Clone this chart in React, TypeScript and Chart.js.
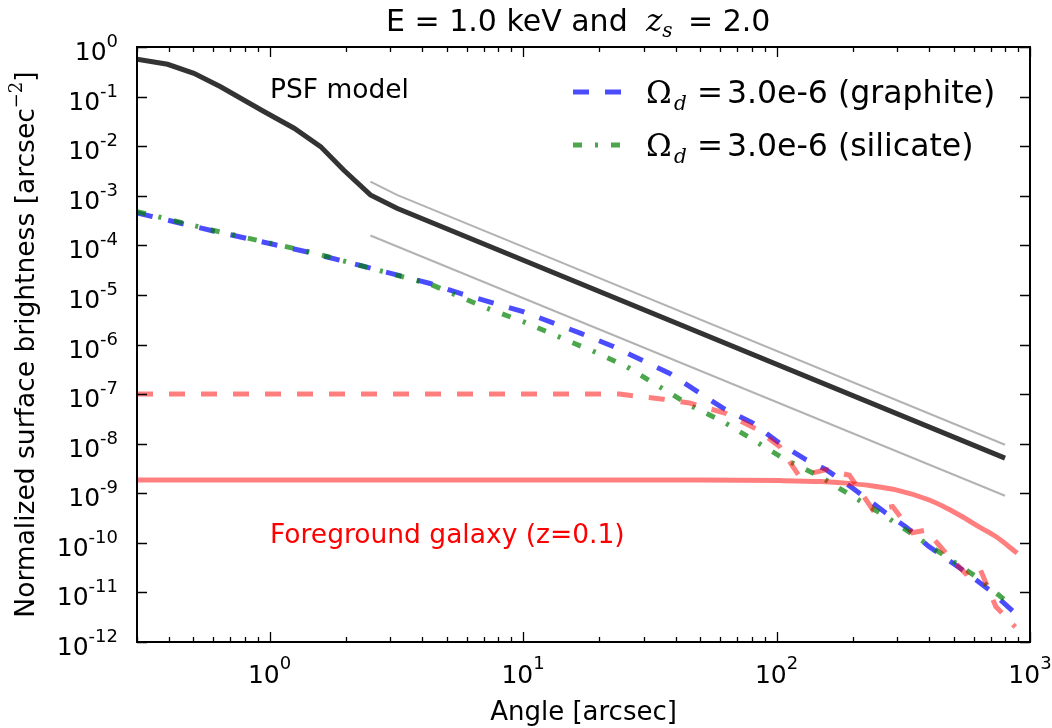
import React, { useEffect, useRef } from 'react';
import { Chart, registerables } from 'chart.js';

Chart.register(...registerables);

// ---- axis ranges / ticks ----
const xMin = 0.3;
const xMax = 1000;
const yMin = 1e-12;
const yMax = 1;
const xTickExps = [0, 1, 2, 3];
const yTickExps = [0, -1, -2, -3, -4, -5, -6, -7, -8, -9, -10, -11, -12];

// ---- PSF model (black) ----
const psfX = [0.3, 0.396, 0.503, 0.641, 0.95, 1.25, 1.59, 1.96, 2.5, 3.18, 797];
const psfY = [0.565, 0.448, 0.295, 0.158, 0.05, 0.023, 0.0098, 0.0033, 0.00104, 5.6e-4, 5.1e-9];

// ---- grey reference power laws ----
const grayHiX = [2.5, 3.18, 797];
const grayHiY = [1.93e-3, 1.04e-3, 9.5e-9];
const grayLoX = [2.5, 797];
const grayLoY = [1.58e-4, 8.9e-10];

// ---- dust halo, graphite (blue dashed) ----
const graphiteX = [0.3, 0.6, 1.45, 4.3, 5.65, 10, 16.8, 22.7, 37.9, 61.5, 80.7, 102.8, 131, 157, 200, 270, 324, 398, 539, 690, 875];
const graphiteY = [4.5e-4, 1.95e-4, 7.1e-5, 1.7e-5, 1.07e-5, 4.6e-6, 1.7e-6, 9.1e-7, 2.6e-7, 5.2e-8, 2.6e-8, 1.02e-8, 4.7e-9, 3.0e-9, 1.26e-9, 4.0e-10, 2.1e-10, 8.5e-11, 2.9e-11, 1.13e-11, 3.8e-12];

// ---- dust halo, silicate (green dash-dot) ----
const silicateX = [0.3, 0.6, 1.45, 4.3, 7.2, 10, 15.8, 18.4, 25.6, 34.6, 45.4, 61.5, 83, 109, 148, 200, 270, 354, 466, 611, 827];
const silicateY = [4.8e-4, 2.0e-4, 7.3e-5, 1.65e-5, 5.4e-6, 2.9e-6, 1.07e-6, 7.8e-7, 3.6e-7, 1.4e-7, 6.0e-8, 2.8e-8, 1.1e-8, 4.7e-9, 2.2e-9, 8.6e-10, 3.4e-10, 1.34e-10, 5.3e-11, 2.1e-11, 6e-12];

// ---- red dashed ----
const redDashX = [0.3, 24, 35.7, 45.4, 63, 83, 103, 123, 157, 194, 240, 287, 344, 389, 466, 557, 630, 733, 875];
const redDashY = [1.0e-7, 1.0e-7, 7.9e-8, 6.6e-8, 4.1e-8, 2.0e-8, 8.7e-9, 2.2e-9, 3.0e-9, 2.3e-9, 4.6e-10, 5.4e-10, 1.6e-10, 1.8e-10, 6.2e-11, 2.4e-11, 3.3e-11, 5.2e-12, 2.0e-12];

// ---- foreground galaxy (red solid) ----
const galaxyX = [0.3, 50, 103, 150, 188, 240, 296, 398, 470, 539, 630, 733, 890];
const galaxyY = [1.86e-9, 1.85e-9, 1.8e-9, 1.72e-9, 1.6e-9, 1.4e-9, 1.17e-9, 7.4e-10, 5.0e-10, 3.4e-10, 2.1e-10, 1.34e-10, 6.2e-11];

const legendLabels = ['3.0e-6 (graphite)', '3.0e-6 (silicate)'];

const SANS = '"DejaVu Sans", Verdana, sans-serif';
const SERIF = '"DejaVu Serif", serif';

const BLUE = 'rgba(0,0,255,0.7)';
const GREEN = 'rgba(0,128,0,0.7)';
const RED = 'rgba(255,0,0,0.5)';
const BLACK = 'rgba(0,0,0,0.8)';
const GRAY = 'rgba(0,0,0,0.3)';

const GRAPHITE_DASH = [16, 16];
const SILICATE_DASH = [9, 13, 3, 13];

function pts(xs: number[], ys: number[]) {
  return xs.map((x, i) => ({ x, y: ys[i] }));
}

type Seg = { t: string; font: string; dy?: number; x?: number };

function drawSegs(ctx: CanvasRenderingContext2D, segs: Seg[], x: number, y: number, align: 'left' | 'center' | 'right', color: string) {
  let total = 0;
  const widths = segs.map((s) => {
    ctx.font = s.font;
    const w = ctx.measureText(s.t).width;
    total += w;
    return w;
  });
  let cx = align === 'left' ? x : align === 'center' ? x - total / 2 : x - total;
  ctx.fillStyle = color;
  ctx.textAlign = 'left';
  ctx.textBaseline = 'alphabetic';
  segs.forEach((s, i) => {
    ctx.font = s.font;
    const px = s.x !== undefined ? s.x : cx;
    ctx.fillText(s.t, px, y + (s.dy || 0));
    cx = px + widths[i];
  });
}

const overlay = {
  id: 'overlay',
  afterDraw(chart: any) {
    const { ctx, chartArea: a, scales } = chart;
    const xs = scales.x;
    const ys = scales.y;
    ctx.save();

    // frame
    ctx.strokeStyle = '#000';
    ctx.lineWidth = 2;
    ctx.setLineDash([]);
    ctx.strokeRect(a.left, a.top, a.right - a.left, a.bottom - a.top);

    // ticks
    ctx.lineWidth = 1.3;
    ctx.beginPath();
    for (let e = -1; e <= 3; e++) {
      for (let m = 1; m <= 9; m++) {
        const v = m * Math.pow(10, e);
        if (v < xMin - 1e-9 || v > xMax + 1e-9) continue;
        const px = Math.round(xs.getPixelForValue(v)) + 0.5;
        const len = m === 1 ? 10 : 5;
        ctx.moveTo(px, a.bottom);
        ctx.lineTo(px, a.bottom - len);
        ctx.moveTo(px, a.top);
        ctx.lineTo(px, a.top + len);
      }
    }
    yTickExps.forEach((e) => {
      const py = Math.round(ys.getPixelForValue(Math.pow(10, e))) + 0.5;
      ctx.moveTo(a.left, py);
      ctx.lineTo(a.left + 10, py);
      ctx.moveTo(a.right, py);
      ctx.lineTo(a.right - 10, py);
    });
    ctx.stroke();

    // x tick labels
    const big = `25px ${SANS}`;
    const sup = `18px ${SANS}`;
    xTickExps.forEach((e) => {
      const px = xs.getPixelForValue(Math.pow(10, e));
      drawSegs(ctx, [{ t: '10', font: big }, { t: String(e), font: sup, dy: -14 }], px, a.bottom + 41, 'center', '#000');
    });
    // y tick labels
    yTickExps.forEach((e) => {
      const py = ys.getPixelForValue(Math.pow(10, e));
      drawSegs(ctx, [{ t: '10', font: big }, { t: String(e), font: sup, dy: -13 }], a.left - 19, py + 13, 'right', '#000');
    });

    // axis titles
    drawSegs(ctx, [{ t: 'Angle [arcsec]', font: `26px ${SANS}` }], (a.left + a.right) / 2, 720, 'center', '#000');
    ctx.save();
    ctx.translate(34, (a.top + a.bottom) / 2);
    ctx.rotate(-Math.PI / 2);
    drawSegs(
      ctx,
      [
        { t: 'Normalized surface brightness [arcsec', font: `26.5px ${SANS}` },
        { t: '\u22122', font: `18px ${SERIF}`, dy: -12 },
        { t: ']', font: `26.5px ${SANS}` },
      ],
      0,
      0,
      'center',
      '#000'
    );
    ctx.restore();

    // title
    drawSegs(
      ctx,
      [
        { t: 'E = 1.0 keV and', font: `30px ${SANS}`, x: 386 },
        { t: 'z', font: `italic 31px ${SERIF}`, x: 646 },
        { t: 's', font: `italic 20px ${SERIF}`, dy: 6 },
        { t: '= 2.0', font: `30px ${SANS}`, x: 688 },
      ],
      0,
      31,
      'left',
      '#000'
    );

    // annotations
    drawSegs(ctx, [{ t: 'PSF model', font: `26.5px ${SANS}` }], 270, 98, 'left', '#000');
    drawSegs(ctx, [{ t: 'Foreground galaxy (z=0.1)', font: `26.5px ${SANS}` }], 270, 543, 'left', '#ff0000');

    // legend
    const legend = [
      { color: BLUE, dash: GRAPHITE_DASH, label: legendLabels[0], y: 92 },
      { color: GREEN, dash: SILICATE_DASH, label: legendLabels[1], y: 145 },
    ];
    legend.forEach((l) => {
      ctx.beginPath();
      ctx.strokeStyle = l.color;
      ctx.lineWidth = 5;
      ctx.setLineDash(l.dash);
      ctx.moveTo(573, l.y);
      ctx.lineTo(621, l.y);
      ctx.stroke();
      ctx.setLineDash([]);
      drawSegs(
        ctx,
        [
          { t: '\u03A9', font: `31px ${SERIF}`, x: 646 },
          { t: 'd', font: `italic 20px ${SERIF}`, dy: 7, x: 674 },
          { t: '=', font: `31px ${SERIF}`, x: 697 },
          { t: l.label, font: `31.5px ${SANS}`, x: 727 },
        ],
        0,
        l.y + 11,
        'left',
        '#000'
      );
    });

    ctx.restore();
  },
};

export default function App() {
  const ref = useRef<HTMLCanvasElement | null>(null);

  useEffect(() => {
    document.body.style.margin = '0';
    const canvas = ref.current;
    if (!canvas) return;
    const common = { pointRadius: 0, pointHoverRadius: 0, fill: false, tension: 0 };
    const chart = new Chart(canvas, {
      type: 'line',
      data: {
        datasets: [
          { ...common, label: 'galaxy', data: pts(galaxyX, galaxyY), borderColor: RED, borderWidth: 5, cubicInterpolationMode: 'monotone' },
          { ...common, label: 'red dashed', data: pts(redDashX, redDashY), borderColor: RED, borderWidth: 5, borderDash: [16, 16] },
          { ...common, label: 'silicate', data: pts(silicateX, silicateY), borderColor: GREEN, borderWidth: 5, borderDash: SILICATE_DASH },
          { ...common, label: 'graphite', data: pts(graphiteX, graphiteY), borderColor: BLUE, borderWidth: 5, borderDash: GRAPHITE_DASH },
          { ...common, label: 'gray low', data: pts(grayLoX, grayLoY), borderColor: GRAY, borderWidth: 2 },
          { ...common, label: 'gray high', data: pts(grayHiX, grayHiY), borderColor: GRAY, borderWidth: 2 },
          { ...common, label: 'PSF model', data: pts(psfX, psfY), borderColor: BLACK, borderWidth: 5 },
        ],
      },
      options: {
        animation: false,
        responsive: false,
        devicePixelRatio: 1,
        layout: { padding: { left: 137, right: 22, top: 47, bottom: 86 } },
        plugins: {
          legend: { display: false },
          tooltip: { enabled: false },
          title: { display: false },
        },
        scales: {
          x: {
            type: 'logarithmic',
            min: xMin,
            max: xMax,
            ticks: { display: false },
            grid: { display: false, drawTicks: false },
            border: { display: false },
          },
          y: {
            type: 'logarithmic',
            min: yMin,
            max: yMax,
            ticks: { display: false },
            grid: { display: false, drawTicks: false },
            border: { display: false },
          },
        },
      },
      plugins: [overlay],
    });
    return () => chart.destroy();
  }, []);

  return (
    <div style={{ width: 1052, height: 728, background: '#fff' }}>
      <canvas ref={ref} width={1052} height={728} style={{ display: 'block' }} />
    </div>
  );
}
